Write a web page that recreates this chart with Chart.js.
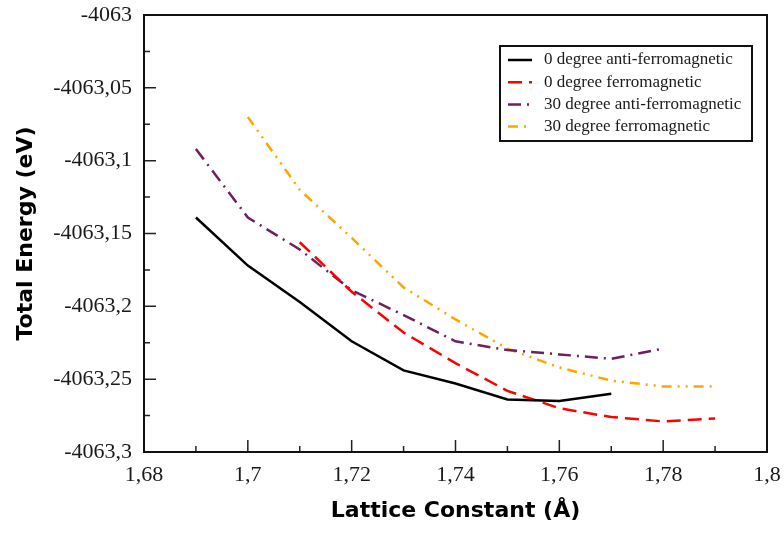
<!DOCTYPE html>
<html>
<head>
<meta charset="utf-8">
<script src="https://cdn.jsdelivr.net/npm/chart.js@4/dist/chart.umd.min.js"></script>
<style>
  html, body { margin: 0; padding: 0; background: #fff; }
  #wrap { width: 784px; height: 536px; }
</style>
</head>
<body>
<div id="wrap"><canvas id="c" width="784" height="536"></canvas></div>
<script>
// ---- data ----
const latticeConstants = [1.69, 1.70, 1.71, 1.72, 1.73, 1.74, 1.75, 1.76, 1.77, 1.78, 1.79];
const afm0deg  = [-4063.139, -4063.172, -4063.197, -4063.224, -4063.244, -4063.253, -4063.264, -4063.265, -4063.260, null, null];
const fm0deg   = [null, null, -4063.156, -4063.190, -4063.218, -4063.239, -4063.258, -4063.270, -4063.276, -4063.279, -4063.277];
const afm30deg = [-4063.092, -4063.139, -4063.161, -4063.189, -4063.206, -4063.224, -4063.230, -4063.233, -4063.236, -4063.229, null];
const fm30deg  = [null, -4063.070, -4063.120, -4063.153, -4063.187, -4063.209, -4063.229, -4063.242, -4063.251, -4063.255, -4063.255];

const seriesLabels = ['0 degree anti-ferromagnetic', '0 degree ferromagnetic', '30 degree anti-ferromagnetic', '30 degree ferromagnetic'];

const xTickValues = [1.68, 1.70, 1.72, 1.74, 1.76, 1.78, 1.80];
const xTickLabels = ['1,68', '1,7', '1,72', '1,74', '1,76', '1,78', '1,8'];
const yTickValues = [-4063.3, -4063.25, -4063.2, -4063.15, -4063.1, -4063.05, -4063];
const yTickLabels = ['-4063,3', '-4063,25', '-4063,2', '-4063,15', '-4063,1', '-4063,05', '-4063'];

function toPoints(values) {
  return latticeConstants.map((x, i) => ({ x: x, y: values[i] })).filter(p => p.y !== null);
}

const styles = [
  { color: '#000000', dash: [] },
  { color: '#ff0000', dash: [14, 7] },
  { color: '#6e1f5e', dash: [13, 6, 2, 6] },
  { color: '#ffa500', dash: [10, 6, 2, 6, 2, 6] }
];
const seriesValues = [afm0deg, fm0deg, afm30deg, fm30deg];

const datasets = seriesValues.map((vals, i) => ({
  label: seriesLabels[i],
  data: toPoints(vals),
  borderColor: styles[i].color,
  backgroundColor: styles[i].color,
  borderDash: styles[i].dash,
  borderWidth: 2.5,
  pointRadius: 0,
  tension: 0,
  fill: false
}));

// frame, inward ticks and boxed legend
const framePlugin = {
  id: 'frame',
  afterDatasetsDraw(chart) {
    const ctx = chart.ctx;
    const a = chart.chartArea;
    const xs = chart.scales.x, ys = chart.scales.y;
    ctx.save();
    ctx.strokeStyle = '#222';
    ctx.lineWidth = 1.5;
    ctx.beginPath();
    for (let i = 0; i < xTickValues.length; i++) {
      const px = xs.getPixelForValue(xTickValues[i]);
      ctx.moveTo(px, a.bottom); ctx.lineTo(px, a.bottom - 12);
      if (i < xTickValues.length - 1) {
        const pm = xs.getPixelForValue((xTickValues[i] + xTickValues[i + 1]) / 2);
        ctx.moveTo(pm, a.bottom); ctx.lineTo(pm, a.bottom - 6);
      }
    }
    for (let i = 0; i < yTickValues.length; i++) {
      const py = ys.getPixelForValue(yTickValues[i]);
      ctx.moveTo(a.left, py); ctx.lineTo(a.left + 12, py);
      if (i < yTickValues.length - 1) {
        const pm = ys.getPixelForValue((yTickValues[i] + yTickValues[i + 1]) / 2);
        ctx.moveTo(a.left, pm); ctx.lineTo(a.left + 6, pm);
      }
    }
    ctx.stroke();
    ctx.strokeStyle = '#111';
    ctx.lineWidth = 2;
    ctx.strokeRect(a.left, a.top, a.right - a.left, a.bottom - a.top);

    // legend box
    const bx = 500, by = 46, bw = 252, bh = 95;
    ctx.fillStyle = '#fff';
    ctx.fillRect(bx, by, bw, bh);
    ctx.strokeStyle = '#111';
    ctx.lineWidth = 2;
    ctx.strokeRect(bx, by, bw, bh);
    ctx.font = '17px "Liberation Serif", serif';
    ctx.textBaseline = 'middle';
    ctx.textAlign = 'left';
    chart.data.datasets.forEach((ds, i) => {
      const ry = by + 14 + i * 22.2;
      ctx.strokeStyle = ds.borderColor;
      ctx.lineWidth = 2.5;
      ctx.setLineDash(ds.borderDash || []);
      ctx.beginPath();
      ctx.moveTo(508, ry); ctx.lineTo(532, ry);
      ctx.stroke();
      ctx.setLineDash([]);
      ctx.fillStyle = '#1a1a1a';
      ctx.fillText(ds.label, 544, ry);
    });
    ctx.restore();
  }
};

new Chart(document.getElementById('c'), {
  type: 'line',
  data: { datasets: datasets },
  options: {
    responsive: false,
    animation: false,
    devicePixelRatio: 1,
    layout: { padding: { top: 15, right: 17, left: 0, bottom: 0 } },
    plugins: { legend: { display: false }, tooltip: { enabled: false } },
    scales: {
      x: {
        type: 'linear',
        min: 1.68,
        max: 1.80,
        afterBuildTicks: s => { s.ticks = xTickValues.map(v => ({ value: v })); },
        afterFit: s => { s.height = 84; s.paddingLeft = 0; s.paddingRight = 0; },
        grid: { display: false, drawTicks: false },
        border: { display: false },
        ticks: {
          padding: 10,
          maxRotation: 0,
          autoSkip: false,
          color: '#1a1a1a',
          font: { family: '"Liberation Serif", serif', size: 22 },
          callback: (v, i) => xTickLabels[i]
        },
        title: {
          display: true,
          text: 'Lattice Constant (Å)',
          color: '#000',
          font: { family: '"DejaVu Sans", sans-serif', size: 22, weight: 'bold' },
          padding: { top: 0, bottom: 12 }
        }
      },
      y: {
        type: 'linear',
        min: -4063.3,
        max: -4063,
        afterBuildTicks: s => { s.ticks = yTickValues.map(v => ({ value: v })); },
        afterFit: s => { s.width = 144; s.paddingTop = 0; s.paddingBottom = 0; },
        grid: { display: false, drawTicks: false },
        border: { display: false },
        ticks: {
          padding: 12,
          autoSkip: false,
          color: '#1a1a1a',
          font: { family: '"Liberation Serif", serif', size: 22 },
          callback: (v, i) => yTickLabels[i]
        },
        title: {
          display: true,
          text: 'Total Energy (eV)',
          color: '#000',
          font: { family: '"DejaVu Sans", sans-serif', size: 22, weight: 'bold' },
          padding: { top: 13, bottom: 0 }
        }
      }
    }
  },
  plugins: [framePlugin]
});
</script>
</body>
</html>
